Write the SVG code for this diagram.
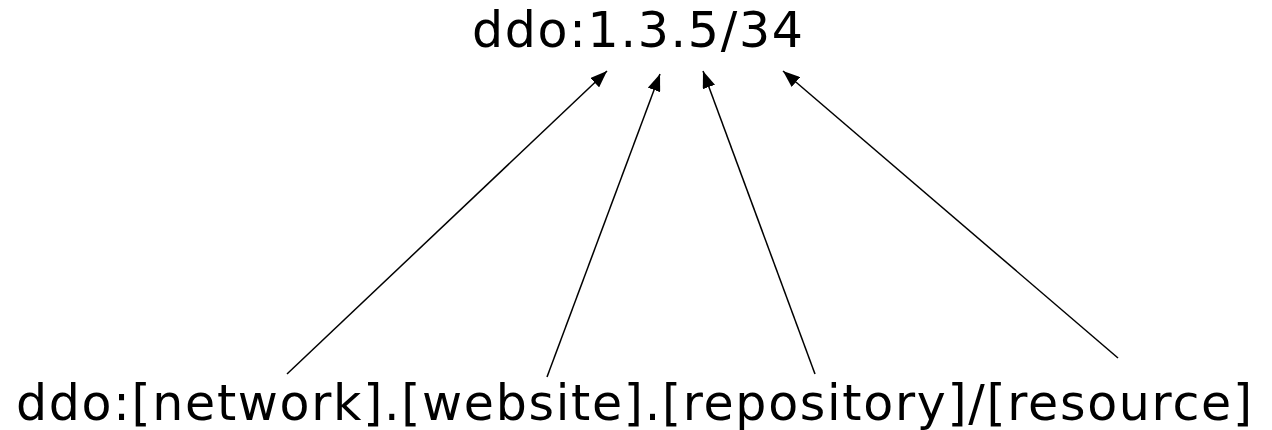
<svg xmlns="http://www.w3.org/2000/svg" width="1272" height="430" viewBox="0 0 1272 430">
<style>
.lbl{font-family:"DejaVu Sans","Verdana",sans-serif;font-size:49px;fill:#000}
.conn{stroke:#000;stroke-width:1.5;fill:none;marker-end:url(#ah)}
</style>
<defs>
<marker id="ah" markerUnits="userSpaceOnUse" markerWidth="17" markerHeight="13" viewBox="0 0 17 13" refX="17" refY="6.5" orient="auto">
<path d="M0,0 L17,6.5 L0,13 Z" fill="#000"/>
</marker>
</defs>
<rect width="1272" height="430" fill="#fff"/>
<g id="top">
<text class="lbl" x="472" y="47" textLength="331" lengthAdjust="spacing">ddo:1.3.5/34</text>
</g>
<g id="bottom">
<text class="lbl" x="16" y="420" textLength="1236" lengthAdjust="spacing">ddo:[network].[website].[repository]/[resource]</text>
</g>
<g id="connectors">
<line class="conn" x1="287" y1="374" x2="607" y2="71"/>
<line class="conn" x1="547" y1="377" x2="660" y2="74"/>
<line class="conn" x1="815" y1="374" x2="703" y2="71"/>
<line class="conn" x1="1118" y1="358" x2="783" y2="71"/>
</g>
</svg>
